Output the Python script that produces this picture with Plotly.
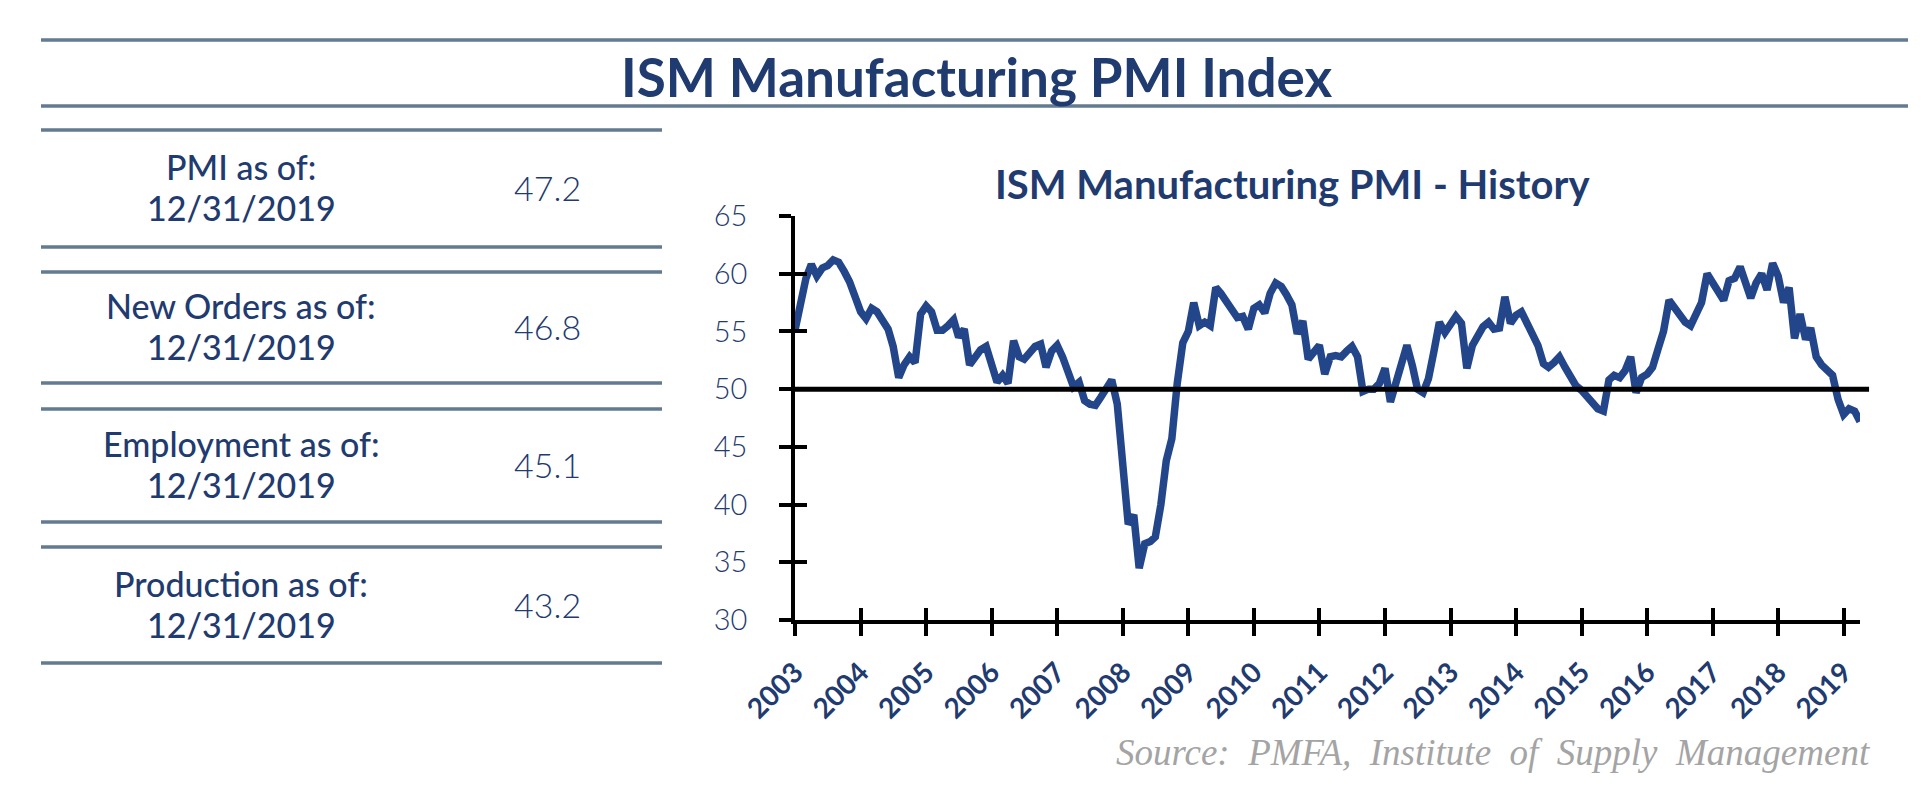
import plotly.graph_objects as go
import pandas as pd

# ---------------- data ----------------
start_month = "2003-09-01"
pmi = [
    55.1, 57.7, 59.6, 60.8, 59.8, 60.5, 60.7, 61.2, 61.0, 60.2, 59.3, 58.0,
    56.7, 56.1, 57.0, 56.7, 55.8, 55.2, 53.7, 51.0, 52.1, 52.8, 52.3, 56.5,
    57.2, 56.7, 55.1, 55.1, 55.5, 56.0, 54.5, 55.2, 52.1, 52.8, 53.4, 53.7,
    51.9, 50.6, 51.2, 50.5, 54.2, 52.8, 52.6, 53.2, 53.7, 53.9, 51.9, 53.3,
    53.8, 52.8, 51.2, 50.2, 50.6, 49.0, 48.7, 48.6, 49.3, 50.2, 50.8, 48.7,
    43.5, 38.3, 39.1, 34.5, 36.6, 36.8, 37.2, 40.0, 43.8, 45.7, 50.5, 54.0,
    55.0, 57.5, 55.5, 55.8, 55.5, 58.8, 58.3, 57.5, 56.9, 56.2, 56.3, 55.2,
    57.0, 57.3, 56.6, 58.3, 59.2, 58.9, 58.2, 57.3, 54.8, 55.9, 52.6, 53.3,
    53.8, 51.3, 52.8, 52.9, 52.8, 53.3, 53.7, 52.8, 49.8, 50.0, 50.0, 50.5,
    51.8, 48.9, 50.7, 52.0, 53.8, 52.0, 50.0, 49.7, 50.9, 53.3, 55.8, 54.9,
    55.7, 56.3, 55.7, 51.8, 53.8, 54.7, 55.4, 55.8, 55.2, 55.3, 58.0, 55.7,
    56.4, 56.7, 55.7, 54.5, 53.8, 52.2, 51.9, 52.3, 52.8, 51.9, 51.2, 50.3,
    49.9, 49.3, 48.9, 48.3, 48.1, 50.8, 51.2, 51.0, 51.6, 52.8, 49.7, 51.0,
    51.3, 51.9, 53.5, 55.0, 57.7, 57.0, 56.5, 55.8, 55.5, 56.5, 57.5, 60.0,
    59.2, 58.3, 57.7, 59.4, 59.6, 60.6, 59.1, 57.9, 59.2, 60.0, 58.6, 60.9,
    59.8, 57.5, 58.8, 54.4, 56.5, 54.3, 55.3, 52.8, 52.1, 51.7, 51.2, 49.1,
    47.8, 48.3, 48.1, 47.2,
]
year_labels = ["2003", "2004", "2005", "2006", "2007", "2008", "2009", "2010",
               "2011", "2012", "2013", "2014", "2015", "2016", "2017", "2018", "2019"]
y_ticks = [30, 35, 40, 45, 50, 55, 60, 65]
threshold = 50

table_labels = ["PMI as of:", "New Orders as of:", "Employment as of:", "Production as of:"]
table_dates = ["12/31/2019", "12/31/2019", "12/31/2019", "12/31/2019"]
table_values = ["47.2", "46.8", "45.1", "43.2"]

main_title = "ISM Manufacturing PMI Index"
chart_title = "ISM Manufacturing PMI - History"
source_text = "Source:\u00a0 PMFA,\u00a0 Institute\u00a0 of\u00a0 Supply\u00a0 Management"

months = pd.date_range(start_month, periods=len(pmi), freq="MS")
tick_dates = months[::12]

# ---------------- geometry helpers (page pixels -> paper) ----------------
OFF = 8          # default body margin of the page
W = 1904
H = 780


def px(x):
    return (x - OFF) / W


def py(y):
    return 1 - (y - OFF) / H


NAVY = "#1f3b70"
LINE_BLUE = "#23468a"
SLATE = "#637b90"
GRAY = "#a4a4a4"

fig = go.Figure()
fig.add_trace(go.Scatter(x=months, y=pmi, mode="lines",
                         line=dict(color=LINE_BLUE, width=7.5),
                         hoverinfo="skip", showlegend=False))
# invisible copy that carries the inner half of the crossing tick marks
fig.add_trace(go.Scatter(x=months, y=pmi, mode="lines", xaxis="x2", yaxis="y2",
                         line=dict(color=LINE_BLUE, width=0), opacity=0,
                         hoverinfo="skip", showlegend=False))

x_dom = [px(795), px(1860)]
y_dom = [py(620), py(216)]
rng_x = [months[0], months[-1]]

fig.update_layout(
    width=W, height=H, autosize=False,
    margin=dict(l=0, r=0, t=0, b=0, pad=0),
    paper_bgcolor="white", plot_bgcolor="white",
    xaxis=dict(type="date", domain=x_dom, range=rng_x, anchor="y", automargin=False,
               tickvals=tick_dates, ticktext=year_labels, tickangle=-45,
               ticks="outside", ticklen=12, tickwidth=3.5, tickcolor="black",
               showline=True, linecolor="black", linewidth=3.5,
               showgrid=False, zeroline=False, ticklabelstandoff=9,
               tickfont=dict(family="Lato", size=28, color=NAVY, weight="bold")),
    yaxis=dict(domain=y_dom, range=[30, 65], anchor="x", automargin=False,
               tickvals=y_ticks, ticks="outside", ticklen=12, tickwidth=3.5,
               tickcolor="black", showline=True, linecolor="black", linewidth=3.5,
               showgrid=False, zeroline=False, ticklabelstandoff=26,
               tickfont=dict(family="Lato", size=29, color=NAVY, weight=300)),
    xaxis2=dict(type="date", domain=x_dom, range=rng_x, overlaying="x", anchor="y2",
                automargin=False, side="bottom", tickvals=tick_dates, ticks="inside",
                ticklen=12, tickwidth=3.5, tickcolor="black", showticklabels=False,
                showline=False, showgrid=False, zeroline=False),
    yaxis2=dict(domain=y_dom, range=[30, 65], overlaying="y", anchor="x2", side="left",
                automargin=False, tickvals=y_ticks, ticks="inside", ticklen=12,
                tickwidth=3.5, tickcolor="black", showticklabels=False, showline=False,
                showgrid=False, zeroline=False),
)

shapes = []
# 50 reference line
shapes.append(dict(type="line", xref="x domain", yref="y", x0=0, x1=1.0085,
                   y0=threshold, y1=threshold, line=dict(color="black", width=5),
                   layer="above"))
# header rules
for yy in (40, 106):
    shapes.append(dict(type="line", xref="paper", yref="paper", x0=px(41), x1=px(1908),
                       y0=py(yy), y1=py(yy), line=dict(color=SLATE, width=3.5)))
# table rules
block_edges = [(130, 247), (272, 383), (409, 522), (547, 663)]
for top, bot in block_edges:
    for yy in (top, bot):
        shapes.append(dict(type="line", xref="paper", yref="paper", x0=px(41), x1=px(662),
                           y0=py(yy), y1=py(yy), line=dict(color=SLATE, width=3.5)))
fig.update_layout(shapes=shapes)

ann = []
ann.append(dict(text="<b>%s</b>" % main_title, x=px(976), y=py(76), xref="paper", yref="paper",
                xanchor="center", yanchor="middle", showarrow=False,
                font=dict(family="Lato", size=53, color=NAVY)))
ann.append(dict(text="<b>%s</b>" % chart_title, x=px(1292), y=py(184), xref="paper", yref="paper",
                xanchor="center", yanchor="middle", showarrow=False,
                font=dict(family="Lato", size=40, color=NAVY)))
for (top, bot), lab, dt, val in zip(block_edges, table_labels, table_dates, table_values):
    cy = (top + bot) / 2
    ann.append(dict(text=lab, x=px(241), y=py(cy - 22), xref="paper", yref="paper",
                    xanchor="center", yanchor="middle", showarrow=False,
                    font=dict(family="Lato", size=34, color=NAVY, weight=500)))
    ann.append(dict(text=dt, x=px(241), y=py(cy + 19), xref="paper", yref="paper",
                    xanchor="center", yanchor="middle", showarrow=False,
                    font=dict(family="Lato", size=34, color=NAVY, weight=500)))
    ann.append(dict(text=val, x=px(547), y=py(cy - 1), xref="paper", yref="paper",
                    xanchor="center", yanchor="middle", showarrow=False,
                    font=dict(family="Lato", size=34, color=NAVY, weight=300)))
ann.append(dict(text=source_text, x=px(1873), y=py(752), xref="paper", yref="paper",
                xanchor="right", yanchor="middle", showarrow=False,
                font=dict(family="Liberation Serif", size=37, color=GRAY, style="italic")))
fig.update_layout(annotations=ann)

fig.write_html("out.html", config={"displayModeBar": False})
